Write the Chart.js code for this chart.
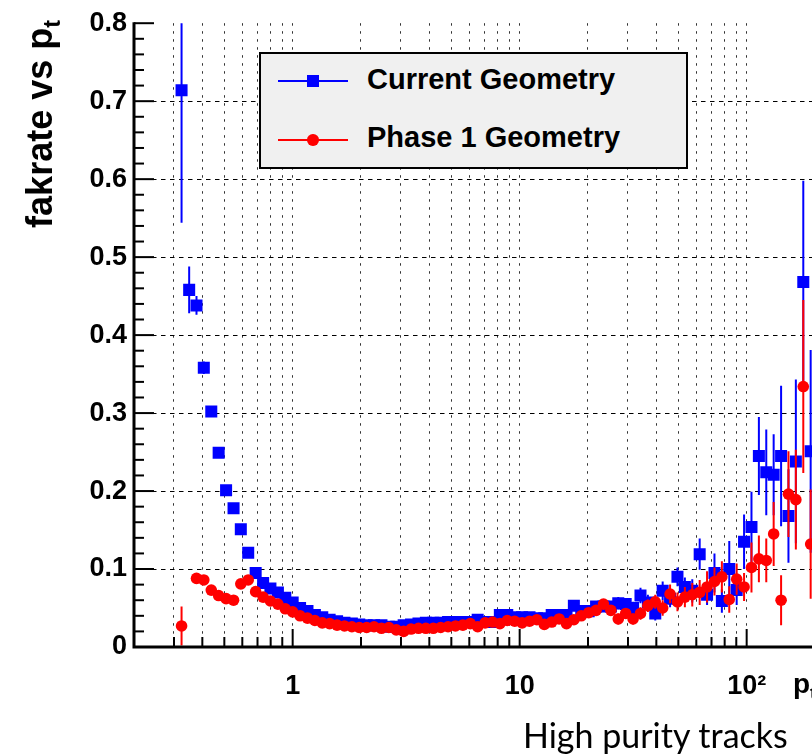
<!DOCTYPE html>
<html lang="en">
<head>
<meta charset="UTF-8">
<title>fakrate vs pt</title>
<script src="https://cdn.jsdelivr.net/npm/chart.js@4"></script>
<style>
    html, body { margin: 0; padding: 0; background: #fff; overflow: hidden; }
    #wrap { position: relative; width: 812px; height: 754px; overflow: hidden; }
    #plot { position: absolute; left: 0; top: 0; }
    .hb { font-family: 'Liberation Sans', Arial, sans-serif; font-weight: bold; color: #000; white-space: nowrap; }
    #ytitle { position: absolute; left: 20px; top: 320px; width: 300px; text-align: right;
              transform-origin: 0 0; transform: rotate(-90deg); font-size: 36px; line-height: 40px; }
    #xtitle { position: absolute; left: 793px; top: 668px; font-size: 28px; line-height: 32px; }
    sub { font-size: 65%; vertical-align: -0.35em; line-height: 0; }
    #caption { position: absolute; left: 523px; top: 716px; font-family: Lato, 'Open Sans', sans-serif;
               font-size: 34px; line-height: 38px; color: #000; white-space: nowrap; }
    #legend { position: absolute; left: 259px; top: 52px; width: 425px; height: 113px;
              background: #f0f0f0; border: 2px solid #000; }
    #legend .ln { position: absolute; left: 17px; width: 70px; height: 2px; }
    #legend .mk { position: absolute; }
    #legend .txt { position: absolute; left: 106px; font-size: 29px; line-height: 32px; }
</style>
</head>
<body>
<div id="wrap">
    <canvas id="plot" width="920" height="754"></canvas>

    <div id="legend" class="hb">
        <div class="ln" style="top:26px; background:#0000ff;"></div>
        <div class="mk" style="left:46px; top:21px; width:12px; height:12px; background:#0000ff;"></div>
        <div class="txt" style="top:9px;">Current Geometry</div>
        <div class="ln" style="top:85px; background:#ff0000;"></div>
        <div class="mk" style="left:46px; top:80px; width:11.5px; height:11.5px; border-radius:50%; background:#ff0000;"></div>
        <div class="txt" style="top:67px;">Phase 1 Geometry</div>
    </div>

    <div id="ytitle" class="hb">fakrate vs p<sub>t</sub></div>
    <div id="xtitle" class="hb">p<sub>t</sub></div>
    <div id="caption">High purity tracks</div>
</div>

<script>
    // bin centres in pt (log binning)
    const ptBins = [
        0.324, 0.350, 0.377, 0.406, 0.438, 0.472, 0.509, 0.549, 0.591, 0.637,
        0.687, 0.741, 0.798, 0.861, 0.928, 1.000, 1.078, 1.162, 1.253, 1.350,
        1.455, 1.569, 1.691, 1.823, 1.965, 2.118, 2.283, 2.461, 2.653, 2.860,
        3.083, 3.323, 3.583, 3.862, 4.163, 4.487, 4.837, 5.214, 5.620, 6.058,
        6.531, 7.040, 7.588, 8.180, 8.817, 9.506, 10.25, 11.05, 11.91, 12.84,
        13.84, 14.92, 16.08, 17.33, 18.68, 20.14, 21.71, 23.40, 25.23, 27.19,
        29.31, 31.60, 34.06, 36.71, 39.57, 42.66, 45.98, 49.56, 53.43, 57.59,
        62.09, 66.92, 72.14, 77.76, 83.82, 90.36, 97.40, 105.0, 113.2, 122.0,
        131.5, 141.8, 152.8, 164.7, 177.6, 191.4
    ];

    // Current Geometry
    const currentRate = [
        0.714, 0.458, 0.438, 0.358, 0.302, 0.249, 0.201, 0.178, 0.151, 0.121,
        0.095, 0.082, 0.075, 0.070, 0.063, 0.057, 0.050, 0.046, 0.041, 0.038,
        0.035, 0.033, 0.031, 0.030, 0.029, 0.028, 0.028, 0.028, 0.026, 0.026,
        0.028, 0.029, 0.030, 0.031, 0.031, 0.031, 0.032, 0.032, 0.032, 0.032,
        0.035, 0.032, 0.032, 0.041, 0.041, 0.038, 0.038, 0.038, 0.037, 0.037,
        0.041, 0.041, 0.041, 0.053, 0.046, 0.046, 0.052, 0.052, 0.052, 0.056,
        0.055, 0.050, 0.066, 0.057, 0.043, 0.072, 0.062, 0.090, 0.077, 0.072,
        0.119, 0.067, 0.095, 0.059, 0.100, 0.073, 0.135, 0.154, 0.245, 0.224,
        0.221, 0.245, 0.168, 0.238, 0.468, 0.251
    ];
    const currentErr = [
        0.170, 0.030, 0.012, 0.008, 0.006, 0.005, 0.005, 0.005, 0.004, 0.004,
        0.004, 0.003, 0.003, 0.003, 0.003, 0.003, 0.003, 0.003, 0.003, 0.003,
        0.003, 0.003, 0.003, 0.003, 0.003, 0.003, 0.003, 0.003, 0.003, 0.003,
        0.003, 0.003, 0.003, 0.003, 0.003, 0.003, 0.003, 0.003, 0.003, 0.003,
        0.003, 0.003, 0.003, 0.004, 0.004, 0.004, 0.004, 0.004, 0.004, 0.004,
        0.005, 0.005, 0.005, 0.006, 0.006, 0.006, 0.007, 0.007, 0.007, 0.008,
        0.008, 0.008, 0.010, 0.010, 0.009, 0.012, 0.011, 0.012, 0.012, 0.015,
        0.020, 0.013, 0.025, 0.015, 0.036, 0.019, 0.035, 0.045, 0.050, 0.055,
        0.052, 0.090, 0.060, 0.105, 0.130, 0.130
    ];

    // Phase 1 Geometry
    const phase1Rate = [
        0.027, null,  0.088, 0.086, 0.073, 0.066, 0.062, 0.060, 0.081, 0.086,
        0.071, 0.064, 0.059, 0.055, 0.049, 0.045, 0.040, 0.037, 0.034, 0.031,
        0.030, 0.028, 0.027, 0.026, 0.025, 0.025, 0.026, 0.024, 0.025, 0.022,
        0.020, 0.023, 0.024, 0.024, 0.024, 0.025, 0.026, 0.027, 0.028, 0.030,
        0.026, 0.031, 0.032, 0.030, 0.034, 0.033, 0.031, 0.033, 0.035, 0.029,
        0.032, 0.036, 0.030, 0.035, 0.040, 0.044, 0.047, 0.055, 0.047, 0.036,
        0.043, 0.036, 0.043, 0.053, 0.058, 0.050, 0.068, 0.058, 0.064, 0.067,
        0.070, 0.077, 0.084, 0.090, 0.061, 0.087, 0.077, 0.102, 0.113, 0.111,
        0.145, 0.060, 0.196, 0.189, 0.334, 0.132
    ];
    const phase1Err = [
        0.025, 0,     0.004, 0.004, 0.004, 0.004, 0.004, 0.004, 0.004, 0.004,
        0.003, 0.003, 0.003, 0.003, 0.003, 0.003, 0.003, 0.003, 0.003, 0.003,
        0.002, 0.002, 0.002, 0.002, 0.002, 0.002, 0.002, 0.002, 0.002, 0.002,
        0.002, 0.002, 0.002, 0.002, 0.002, 0.002, 0.002, 0.002, 0.003, 0.003,
        0.003, 0.003, 0.003, 0.003, 0.003, 0.003, 0.003, 0.003, 0.003, 0.003,
        0.004, 0.004, 0.004, 0.005, 0.005, 0.005, 0.006, 0.006, 0.006, 0.007,
        0.007, 0.007, 0.008, 0.008, 0.009, 0.010, 0.012, 0.012, 0.013, 0.015,
        0.016, 0.020, 0.018, 0.020, 0.017, 0.020, 0.018, 0.032, 0.030, 0.028,
        0.041, 0.032, 0.055, 0.064, 0.111, 0.070
    ];

    // axes
    const xGridValues = [0.3, 0.4, 0.5, 0.6, 0.7, 0.8, 0.9, 1, 2, 3, 4, 5, 6, 7, 8, 9,
                         10, 20, 30, 40, 50, 60, 70, 80, 90, 100, 200, 300, 400];
    const xTickLabels = { 1: '1', 10: '10', 100: '10²' };
    const yTickValues = [0, 0.1, 0.2, 0.3, 0.4, 0.5, 0.6, 0.7, 0.8];
    const yTickLabels = ['0', '0.1', '0.2', '0.3', '0.4', '0.5', '0.6', '0.7', '0.8'];

    const labelFont = { family: "'Liberation Sans', Arial, sans-serif", weight: 'bold', size: 27 };

    // vertical error bars, drawn under the markers of each dataset
    const errorBars = {
        id: 'errorBars',
        beforeDatasetDraw(chart, args) {
            const ds = chart.data.datasets[args.index];
            const ctx = chart.ctx;
            const yScale = chart.scales.y;
            const a = chart.chartArea;
            ctx.save();
            ctx.beginPath();
            ctx.rect(a.left, a.top, a.right - a.left, a.bottom - a.top);
            ctx.clip();
            ctx.strokeStyle = ds.backgroundColor;
            ctx.lineWidth = 2;
            args.meta.data.forEach((pt, i) => {
                const v = ds.data[i].y;
                const e = ds.errors[i];
                if (v === null || !e) return;
                ctx.beginPath();
                ctx.moveTo(pt.x, yScale.getPixelForValue(v + e));
                ctx.lineTo(pt.x, yScale.getPixelForValue(Math.max(0, v - e)));
                ctx.stroke();
            });
            ctx.restore();
        }
    };

    // ROOT style axes: thick lines, ticks pointing inwards
    const rootAxes = {
        id: 'rootAxes',
        afterDatasetsDraw(chart) {
            const { ctx, chartArea: a, scales: { x, y } } = chart;
            ctx.save();
            ctx.strokeStyle = '#000';
            ctx.lineWidth = 2;
            for (let i = 0; i <= 40; i++) {
                const py = y.getPixelForValue(i * 0.02);
                const len = i % 5 === 0 ? 20 : 10;
                ctx.beginPath();
                ctx.moveTo(a.left, py);
                ctx.lineTo(a.left + len, py);
                ctx.stroke();
            }
            xGridValues.forEach(v => {
                const px = x.getPixelForValue(v);
                const len = xTickLabels[v] ? 18 : 10;
                ctx.beginPath();
                ctx.moveTo(px, a.bottom);
                ctx.lineTo(px, a.bottom - len);
                ctx.stroke();
            });
            ctx.lineWidth = 3;
            ctx.beginPath();
            ctx.moveTo(a.left, a.top - 1);
            ctx.lineTo(a.left, a.bottom);
            ctx.lineTo(chart.width, a.bottom);
            ctx.stroke();
            ctx.restore();
        }
    };

    new Chart(document.getElementById('plot').getContext('2d'), {
        type: 'scatter',
        data: {
            datasets: [
                {
                    label: 'Current Geometry',
                    data: ptBins.map((p, i) => ({ x: p, y: currentRate[i] })),
                    errors: currentErr,
                    backgroundColor: '#0000ff',
                    borderWidth: 0,
                    pointStyle: 'rect',
                    pointRadius: 8.5,
                    order: 2
                },
                {
                    label: 'Phase 1 Geometry',
                    data: ptBins.map((p, i) => ({ x: p, y: phase1Rate[i] })),
                    errors: phase1Err,
                    backgroundColor: '#ff0000',
                    borderWidth: 0,
                    pointStyle: 'circle',
                    pointRadius: 5.8,
                    order: 1
                }
            ]
        },
        options: {
            responsive: false,
            animation: false,
            devicePixelRatio: 1,
            layout: { padding: { top: 22, left: 0, right: 14.67, bottom: 0 } },
            plugins: {
                legend: { display: false },
                tooltip: { enabled: false }
            },
            scales: {
                x: {
                    type: 'logarithmic',
                    min: 0.2,
                    max: 500,
                    afterBuildTicks: s => { s.ticks = xGridValues.map(v => ({ value: v })); },
                    afterFit: s => { s.height = 107; },
                    ticks: {
                        autoSkip: false,
                        maxRotation: 0,
                        padding: 23,
                        color: '#000',
                        font: labelFont,
                        callback: v => xTickLabels[v] || ''
                    },
                    grid: { color: '#333', lineWidth: 1, drawTicks: false },
                    border: { display: false, dash: [2.5, 5.5] }
                },
                y: {
                    min: 0,
                    max: 0.8,
                    afterBuildTicks: s => { s.ticks = yTickValues.map(v => ({ value: v })); },
                    afterFit: s => { s.width = 134; },
                    ticks: {
                        padding: 7,
                        color: '#000',
                        font: labelFont,
                        callback: (v, i) => yTickLabels[i]
                    },
                    grid: {
                        color: c => (c.tick && (c.tick.value === 0 || c.tick.value === 0.8)) ? 'rgba(0,0,0,0)' : '#000',
                        lineWidth: 1,
                        drawTicks: false
                    },
                    border: { display: false, dash: [4.5, 4.5] }
                }
            }
        },
        plugins: [errorBars, rootAxes]
    });
</script>
</body>
</html>
